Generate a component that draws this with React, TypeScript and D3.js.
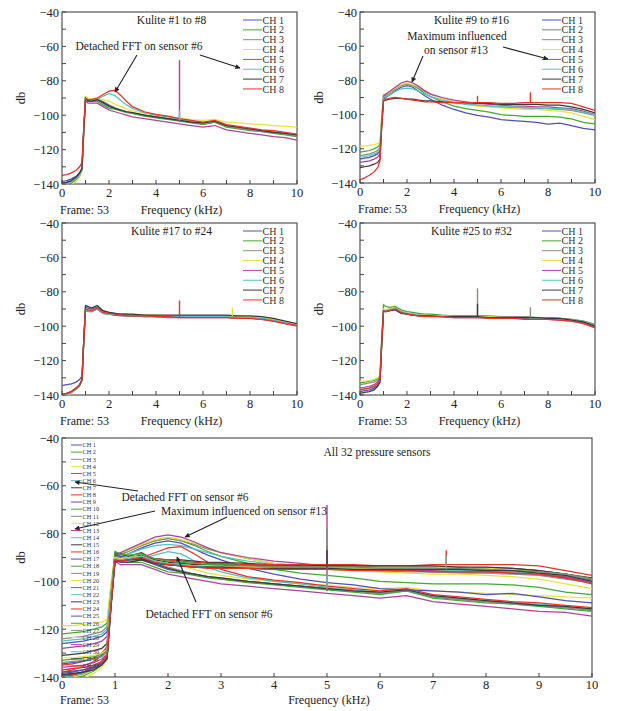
import * as d3 from "d3";
import React from "react";

// frequency grid (kHz) shared by every channel
const freq = [0, 0.2, 0.4, 0.6, 0.75, 0.85, 0.92, 1.0, 1.1, 1.25, 1.5, 1.75, 2.0, 2.25, 2.5, 2.75, 3.0, 3.5, 4.0, 4.5, 5.0, 5.5, 6.0, 6.5, 7.0, 7.5, 8.0, 8.5, 9.0, 9.5, 10];

// Kulite #1 to #8
const kulite1to8 = [
  [-138.5, -138, -137, -135.5, -133.5, -131, -110, -91, -92, -92, -91, -93, -95, -96, -97, -98, -99, -100, -101, -102, -103, -104, -105, -104, -106.5, -107.5, -108.5, -109, -110, -111, -112],
  [-141, -140.5, -139.5, -137.5, -135, -132, -111, -90, -91.5, -92, -92, -94, -96, -96.5, -97.5, -98.5, -99, -100.5, -101.5, -102.5, -103.5, -104.5, -105.5, -104, -107, -108, -109, -109.5, -110.5, -111.5, -112.5],
  [-140, -139.5, -138.5, -136.5, -134, -131.5, -110, -90.5, -91, -91.5, -90.5, -92, -94, -95.5, -97, -98, -98.5, -100, -101, -102, -103, -104, -105, -103.5, -106.5, -107.5, -108.5, -109.5, -110, -111, -112],
  [-142, -141.5, -140.5, -138.5, -136, -133, -112, -89, -90, -90.5, -90, -91, -92, -93.5, -95, -96.5, -97.5, -99, -100, -101, -101.5, -102.5, -103, -102.5, -104, -104.5, -105, -105.5, -106, -106.5, -107],
  [-139.5, -139, -138, -136, -134, -131.5, -111, -91.5, -93, -93, -93, -95, -97, -98, -99, -100, -101, -102, -103, -104, -105, -106, -107, -106, -108.5, -109.5, -110.5, -111.5, -112.5, -113, -114.5],
  [-140.5, -140, -139, -137, -135, -132, -111, -90.5, -91.5, -91.5, -90.5, -89, -87.5, -88.5, -91.5, -94, -96, -98.5, -100, -101, -102.5, -103.5, -104.5, -103.5, -106, -107, -108, -109, -109.5, -110.5, -111.5],
  [-139.5, -139, -138, -136, -133.5, -131, -110, -90, -91.5, -92, -91, -92.5, -94.5, -96, -97, -98, -98.5, -100, -101, -102, -103, -104, -104.5, -103.5, -106, -107, -108, -109, -110, -110.5, -111.5],
  [-135, -134.5, -133.5, -132, -130, -127.5, -108, -90, -91, -91, -90, -88, -86, -85.5, -88.5, -92, -95, -98, -99.5, -100.5, -102, -103, -104, -103, -105.5, -106.5, -107.5, -108.5, -109, -110, -111],
];

// Kulite #9 to #16
const kulite9to16 = [
  [-126, -125.5, -125, -124, -123, -121, -105, -91, -90, -88.5, -86, -84, -83, -84, -86.5, -89, -91, -94.5, -97, -99, -100.5, -101.5, -103, -103.5, -104, -104.5, -105.5, -105, -106.5, -108, -109],
  [-122, -121.5, -121, -120, -119, -117.5, -103, -89, -88.5, -87.5, -85, -83, -82, -83, -85, -87.5, -89.5, -92.5, -95, -96.5, -97.5, -98.5, -100, -100.5, -101, -101, -101, -101.5, -102.5, -104.5, -105.5],
  [-124, -123.5, -123, -122, -121, -119, -104, -90, -89, -87.5, -85, -83, -82, -83, -84.5, -86.5, -88, -90.5, -92.5, -93.5, -94.5, -95, -95.5, -96, -96, -96.5, -96.5, -97, -97.5, -99, -100.5],
  [-118.5, -118.5, -118, -117.5, -117, -116, -102, -88, -88, -87, -84.5, -82.5, -81.5, -82.5, -84, -86, -88, -90.5, -92.5, -94, -95, -95.5, -96, -96.5, -97, -97, -97.5, -98, -99, -101, -103],
  [-128, -127.5, -127, -126, -125, -123, -106, -89, -88, -86.5, -84, -81.5, -80.5, -81.5, -83.5, -86, -88, -90, -91.5, -92.5, -93.5, -94, -94.5, -95, -95, -95.5, -95.5, -96, -96.5, -98, -100],
  [-125, -124.5, -124, -123, -122, -120, -105, -90, -89.5, -88.5, -86.5, -85, -84.5, -85, -86.5, -88, -89.5, -91.5, -93, -94, -94.5, -95, -95.5, -95.5, -96, -96, -96.5, -96.5, -97, -98.5, -100],
  [-131, -130.5, -130, -129, -128, -126, -108, -92, -91.5, -91, -90.5, -90.5, -91, -91, -91.5, -92, -92, -92.5, -93, -93, -93.5, -93.5, -94, -94, -94, -94, -94.5, -94.5, -95.5, -97, -99],
  [-138, -137, -135.5, -133.5, -131, -127, -108, -92, -91, -90.5, -90, -90.5, -91, -91.5, -92, -92.5, -92.5, -93, -93, -93, -93, -93, -93.5, -93.5, -93, -93, -93, -93, -93.5, -95.5, -97.5],
];

// Kulite #17 to #24
const kulite17to24 = [
  [-134.5, -134, -133.5, -132.5, -131, -129, -110, -89, -89.5, -90, -89, -91.5, -92, -92.5, -93, -93, -93.5, -93.5, -94, -94, -94, -94, -94, -94, -94, -94.5, -94.5, -95, -96, -97.5, -99],
  [-140, -139.5, -138.5, -136.5, -134.5, -131.5, -111, -91, -91.5, -91.5, -90, -92.5, -93, -93.5, -93.5, -94, -94, -94.5, -94.5, -94.5, -94.5, -94.5, -94.5, -94.5, -94.5, -95, -95, -95.5, -96.5, -98, -99.5],
  [-139.5, -139, -138, -136, -134, -131, -110, -90, -90.5, -91, -89.5, -92, -92.5, -93, -93, -93.5, -93.5, -94, -94, -94, -94, -94, -94, -94, -94, -94.5, -94.5, -95, -96, -97.5, -99],
  [-140.5, -140, -139, -137, -135, -132, -111, -90.5, -91, -91, -89.5, -92, -92.5, -93, -93, -93.5, -93.5, -93.5, -93.5, -94, -94, -94, -94, -94, -94, -94, -94.5, -95, -96, -97.5, -99],
  [-140, -139.5, -138.5, -136.5, -134.5, -131.5, -111, -90.5, -91, -91.5, -90, -92.5, -93, -93.5, -94, -94, -94, -94.5, -94.5, -95, -95, -95, -95, -95, -95, -95.5, -95.5, -96, -97, -98.5, -100],
  [-140, -139.5, -138.5, -136.5, -134.5, -131.5, -111, -90.5, -91, -91.5, -90, -92.5, -93, -93, -93.5, -94, -94, -94, -94.5, -94.5, -94.5, -94.5, -94.5, -94.5, -94.5, -95, -95, -95.5, -96.5, -98, -99.5],
  [-139.5, -139, -138, -136, -134, -131, -110, -88, -88.5, -89.5, -88, -91, -92, -92.5, -93, -93, -93, -93.5, -93.5, -93.5, -93.5, -93.5, -93.5, -93.5, -93.5, -94, -94, -94.5, -95.5, -97, -98.5],
  [-139.5, -139, -138, -136, -134, -131, -110, -90, -90.5, -91, -89.5, -92, -92.5, -93, -93.5, -94, -94, -94, -94.5, -94.5, -95, -95, -95, -95, -95, -95.5, -95.5, -96, -97, -98.5, -99.5],
];

// Kulite #25 to #32
const kulite25to32 = [
  [-138, -137.5, -137, -136, -134.5, -132, -112, -91, -91.5, -91, -90, -92, -92.5, -93, -93.5, -94, -94, -94, -94.5, -94.5, -94.5, -94.5, -95, -95, -95, -95.5, -95.5, -96, -96.5, -97.5, -99.5],
  [-133, -132.5, -132, -131.5, -130.5, -129, -108, -87.5, -88.5, -89, -88.5, -90.5, -91.5, -92, -92.5, -93, -93, -93.5, -94, -94, -94, -94, -94.5, -94.5, -94.5, -95, -95, -95.5, -96, -97, -99],
  [-134, -133.5, -133, -132.5, -131.5, -129.5, -109, -90.5, -90.5, -90, -89.5, -91.5, -92.5, -93, -93.5, -93.5, -94, -94, -94, -94, -94, -94.5, -94.5, -94.5, -94.5, -95, -95, -95.5, -96, -97, -99],
  [-132, -132, -131.5, -131, -130, -128.5, -108, -90, -90.5, -90, -89.5, -91.5, -92.5, -93, -93.5, -93.5, -94, -94, -94.5, -94.5, -94.5, -94.5, -95, -95, -95, -95.5, -95.5, -96, -96.5, -97.5, -100],
  [-136, -135.5, -135, -134, -132.5, -130.5, -110, -91, -91.5, -91, -90, -92, -93, -93.5, -94, -94, -94.5, -94.5, -95, -95, -95, -95, -95.5, -95.5, -95.5, -96, -96, -96.5, -97, -98, -100.5],
  [-137, -136.5, -136, -135, -133.5, -131, -111, -91, -91, -90.5, -89.5, -91.5, -92.5, -93, -93.5, -94, -94, -94.5, -94.5, -94.5, -95, -95, -95, -95, -95, -95.5, -95.5, -96, -96.5, -97.5, -100],
  [-139, -138.5, -138, -137, -135, -132.5, -112, -91.5, -91.5, -91, -90.5, -92.5, -93, -93.5, -94, -94, -94, -94.5, -94.5, -94.5, -94.5, -95, -95, -95, -95, -95, -95.5, -95.5, -96.5, -97.5, -100],
  [-137, -136.5, -136, -135, -133.5, -131, -111, -91, -91.5, -91, -90, -92, -93, -93.5, -94, -94.5, -94.5, -94.5, -95, -95, -95, -95.5, -95.5, -95.5, -96, -96, -96, -96.5, -97, -98.5, -101],
];

// narrow tonal spikes: group, channel, frequency, level at foot, level at top
const spikes = [
  { g: 0, ch: 4, f: 5.0, base: -104, top: -68 },
  { g: 0, ch: 5, f: 5.0, base: -103, top: -97 },
  { g: 1, ch: 7, f: 5.0, base: -93, top: -89 },
  { g: 1, ch: 7, f: 7.25, base: -93, top: -87 },
  { g: 2, ch: 7, f: 5.0, base: -95, top: -85 },
  { g: 2, ch: 3, f: 7.25, base: -94, top: -89 },
  { g: 3, ch: 2, f: 5.0, base: -94, top: -78 },
  { g: 3, ch: 6, f: 5.0, base: -94, top: -87 },
  { g: 3, ch: 2, f: 7.25, base: -95, top: -89 },
];

const groups = [kulite1to8, kulite9to16, kulite17to24, kulite25to32];
const titles = ["Kulite #1 to #8", "Kulite #9 to #16", "Kulite #17 to #24", "Kulite #25 to #32"];
const channelNames = ["CH 1", "CH 2", "CH 3", "CH 4", "CH 5", "CH 6", "CH 7", "CH 8"];
const colors = ["#5050b8", "#44a832", "#8c8c80", "#e4e440", "#b0409c", "#52c4bc", "#3a3a3a", "#e8302c"];
const yTicks = [-140, -120, -100, -80, -60, -40];
const yMinor = [-130, -110, -90, -70, -50];
const xTicksSmall = [0, 2, 4, 6, 8, 10];
const xMinorSmall = [1, 3, 5, 7, 9];
const xTicksBig = [0, 1, 2, 3, 4, 5, 6, 7, 8, 9, 10];

const font = "'Liberation Serif', 'Times New Roman', serif";
const fmt = (v: number) => (v < 0 ? "\u2212" + Math.abs(v) : String(v));

type Box = { l: number; r: number; t: number; b: number };

function Axes({ box, id, xTicks, xMinor, big }: { box: Box; id: string; xTicks: number[]; xMinor: number[]; big?: boolean }) {
  const xs = d3.scaleLinear().domain([0, 10]).range([box.l, box.r]);
  const ys = d3.scaleLinear().domain([-140, -40]).range([box.b, box.t]);
  const fs = 12.5;
  return (
    <g fontFamily={font} fill="#222">
      <rect x={box.l} y={box.t} width={box.r - box.l} height={box.b - box.t} fill="none" stroke="#444" strokeWidth={1.1} />
      {yTicks.concat(yMinor).map((v) => (
        <line key={"yt" + v} x1={box.l} x2={box.l + 4} y1={ys(v)} y2={ys(v)} stroke="#444" />
      ))}
      {yTicks.map((v) => (
        <text key={"yl" + v} x={box.l - 3} y={ys(v) + 4.5} textAnchor="end" fontSize={fs}>{fmt(v)}</text>
      ))}
      {xTicks.concat(xMinor).map((v) => (
        <line key={"xt" + v} x1={xs(v)} x2={xs(v)} y1={box.b} y2={box.b - 4} stroke="#444" />
      ))}
      {xTicks.map((v) => (
        <text key={"xl" + v} x={xs(v)} y={box.b + (big ? 12 : 13)} textAnchor="middle" fontSize={fs}>{v}</text>
      ))}
      <text x={box.l - 2} y={box.b + (big ? 27 : 30)} fontSize={12}>Frame: 53</text>
      <text x={(box.l + box.r) / 2 + 2} y={box.b + (big ? 27 : 30)} fontSize={12} textAnchor="middle">Frequency (kHz)</text>
      <text transform={`translate(${box.l - 37},${(box.t + box.b) / 2}) rotate(-90)`} textAnchor="middle" fontSize={12.5}>db</text>
      <clipPath id={id}>
        <rect x={box.l} y={box.t} width={box.r - box.l} height={box.b - box.t} />
      </clipPath>
    </g>
  );
}

function Traces({ box, id, series, colorOf, groupIdx }: { box: Box; id: string; series: number[][]; colorOf: (i: number) => string; groupIdx: number[] }) {
  const xs = d3.scaleLinear().domain([0, 10]).range([box.l, box.r]);
  const ys = d3.scaleLinear().domain([-140, -40]).range([box.b, box.t]);
  const line = d3.line<number>().x((_, i) => xs(freq[i])).y((d) => ys(d));
  return (
    <g clipPath={`url(#${id})`}>
      {series.map((s, i) => (
        <path key={i} d={line(s) || ""} fill="none" stroke={colorOf(i)} strokeWidth={1.25} />
      ))}
      {spikes
        .filter((s) => groupIdx.includes(s.g))
        .map((s, i) => (
          <line key={"sp" + i} x1={xs(s.f)} x2={xs(s.f)} y1={ys(s.base)} y2={ys(s.top)} stroke={colors[s.ch]} strokeWidth={1.4} />
        ))}
    </g>
  );
}

function Legend({ x, y, step, names, fs, len }: { x: number; y: number; step: number; names: string[]; fs: number; len: number }) {
  return (
    <g fontFamily={font} fontSize={fs} fill="#333">
      {names.map((n, i) => (
        <g key={n}>
          <line x1={x} x2={x + len} y1={y + i * step} y2={y + i * step} stroke={colors[i % 8]} strokeWidth={1} />
          <text x={x + len + 0.5} y={y + i * step + fs * 0.36}>{n}</text>
        </g>
      ))}
    </g>
  );
}

function Arrow({ x1, y1, x2, y2 }: { x1: number; y1: number; x2: number; y2: number }) {
  return <line x1={x1} y1={y1} x2={x2} y2={y2} stroke="#222" strokeWidth={1.1} markerEnd="url(#arrowhead)" />;
}

const smallBoxes: Box[] = [
  { l: 62, r: 297, t: 12, b: 184 },
  { l: 360, r: 595, t: 12, b: 183 },
  { l: 62, r: 297, t: 223, b: 395 },
  { l: 360, r: 595, t: 223, b: 395 },
];
const bigBox: Box = { l: 62, r: 592, t: 438, b: 677 };

export default function App() {
  const allSeries = groups.flat();
  const allNames = allSeries.map((_, i) => "CH " + (i + 1));
  return (
    <svg width={621} height={711} style={{ position: "absolute", left: 0, top: 0, background: "#fff" }}>
      <defs>
        <marker id="arrowhead" viewBox="0 0 10 10" refX={9} refY={5} markerWidth={7} markerHeight={5} orient="auto" markerUnits="userSpaceOnUse">
          <path d="M0,0 L10,5 L0,10 z" fill="#222" />
        </marker>
      </defs>
      {smallBoxes.map((box, gi) => (
        <g key={gi}>
          <Axes box={box} id={"clip" + gi} xTicks={xTicksSmall} xMinor={xMinorSmall} />
          <Traces box={box} id={"clip" + gi} series={groups[gi]} colorOf={(i) => colors[i]} groupIdx={[gi]} />
          <text x={(box.l + box.r) / 2 - 8 + (gi % 2 === 1 ? 2 : 0)} y={box.t + 12} textAnchor="middle" fontFamily={font} fontSize={11.5} fill="#222">{titles[gi]}</text>
          <Legend x={box.r - 54 + (gi % 2 === 1 ? 1 : 0)} y={box.t + 8} step={9.85} names={channelNames} fs={10} len={19} />
        </g>
      ))}
      <g fontFamily={font} fontSize={11.5} fill="#222" textAnchor="middle">
        <text x={139} y={50}>Detached FFT on sensor #6</text>
        <text x={457} y={40}>Maximum influenced</text>
        <text x={456} y={54}>on sensor #13</text>
      </g>
      <Arrow x1={137} y1={55} x2={115} y2={92} />
      <Arrow x1={200} y1={55} x2={240} y2={68} />
      <Arrow x1={423} y1={56} x2={412} y2={82} />
      <Arrow x1={503} y1={47} x2={548} y2={59} />

      <Axes box={bigBox} id="clipBig" xTicks={xTicksBig} xMinor={[]} big />
      <Traces box={bigBox} id="clipBig" series={allSeries} colorOf={(i) => colors[i % 8]} groupIdx={[0, 1, 2, 3]} />
      <Legend x={71} y={445} step={7.13} names={allNames} fs={6.3} len={11} />
      <g fontFamily={font} fontSize={11.5} fill="#222" textAnchor="middle">
        <text x={377} y={456}>All 32 pressure sensors</text>
        <text x={185} y={501}>Detached FFT on sensor #6</text>
        <text x={244} y={515}>Maximum influenced on sensor #13</text>
        <text x={209} y={618}>Detached FFT on sensor #6</text>
      </g>
      <Arrow x1={138} y1={491} x2={75} y2={482} />
      <Arrow x1={155} y1={511} x2={75} y2={529} />
      <Arrow x1={227} y1={517} x2={185} y2={537} />
      <Arrow x1={196} y1={602} x2={177} y2={557} />
    </svg>
  );
}
